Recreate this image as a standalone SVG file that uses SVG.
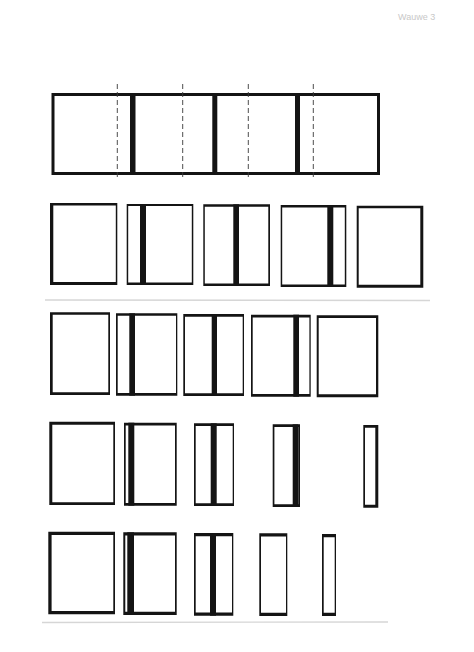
<svg xmlns="http://www.w3.org/2000/svg" width="474" height="652" viewBox="0 0 474 652">
<style>
.k{fill:#141414;fill-rule:evenodd}
.d{stroke:#3a3a3a;stroke-width:0.9;stroke-dasharray:5 3;fill:none}
.g{stroke:#d6d6d6;stroke-width:1.3;fill:none}
.t{font-family:"Liberation Sans",Arial,sans-serif;font-size:9px;fill:#c8c8c8}
</style>
<rect width="474" height="652" fill="#ffffff"/>
<text class="t" x="398" y="20">Wauwe 3</text>
<g id="strip">
<path class="k" d="M51.5 93 H380 V175 H51.5Z M54.5 96 V172 H377 V96Z"/>
<rect class="k" x="130" y="93" width="5.5" height="82"/>
<rect class="k" x="212.3" y="93" width="5" height="82"/>
<rect class="k" x="295" y="93" width="5" height="82"/>
</g>
<g id="cuts">
<line class="d" x1="117.3" y1="84" x2="117.3" y2="180"/>
<line class="d" x1="182.7" y1="84" x2="182.7" y2="180"/>
<line class="d" x1="248.3" y1="84" x2="248.3" y2="180"/>
<line class="d" x1="313.3" y1="84" x2="313.3" y2="180"/>
</g>
<g id="row2">
<g id="r2b1"><path class="k" d="M50 203 H117.3 V285 H50Z M53.3 205.5 V282 H115.8 V205.5Z"/></g>
<g id="r2b2"><path class="k" d="M126.7 204 H193.3 V285 H126.7Z M128.2 206 V282.5 H191.8 V206Z"/><rect class="k" x="140" y="204" width="6" height="81"/></g>
<g id="r2b3"><path class="k" d="M203.3 204.3 H270 V286 H203.3Z M204.8 206.8 V283.5 H268.3 V206.8Z"/><rect class="k" x="233.3" y="204.3" width="5.7" height="81.7"/></g>
<g id="r2b4"><path class="k" d="M280.7 205 H346.3 V287 H280.7Z M282.2 207.5 V284.5 H344.8 V207.5Z"/><rect class="k" x="327.3" y="205" width="6" height="82"/></g>
<g id="r2b5"><path class="k" d="M356.7 205.7 H423.3 V287.7 H356.7Z M358.7 208.2 V284.7 H420.3 V208.2Z"/></g>
</g>
<line class="g" x1="45" y1="300" x2="430" y2="300.5"/>
<g id="row3">
<g id="r3b1"><path class="k" d="M50 312.3 H110 V395 H50Z M52.7 314.8 V392.3 H108.3 V314.8Z"/></g>
<g id="r3b2"><path class="k" d="M116 313.3 H177.3 V395.7 H116Z M117.7 315.8 V393 H176 V315.8Z"/><rect class="k" x="129.3" y="313.3" width="5.7" height="82.4"/></g>
<g id="r3b3"><path class="k" d="M183.3 314 H244 V396 H183.3Z M185 316.7 V393.3 H242.7 V316.7Z"/><rect class="k" x="211.7" y="314" width="5.3" height="82"/></g>
<g id="r3b4"><path class="k" d="M251 314.7 H310.7 V396.7 H251Z M252.7 317.4 V394 H309.4 V317.4Z"/><rect class="k" x="293.3" y="314.7" width="5.7" height="82"/></g>
<g id="r3b5"><path class="k" d="M316.7 315.3 H378.3 V397.3 H316.7Z M318.7 318 V394.3 H376 V318Z"/></g>
</g>
<g id="row4">
<g id="r4b1"><path class="k" d="M49.3 421.7 H115 V505 H49.3Z M52.3 424.7 V502.3 H113.3 V424.7Z"/></g>
<g id="r4b2"><path class="k" d="M124 422.7 H176.7 V505.7 H124Z M125.7 425.4 V503 H175 V425.4Z"/><rect class="k" x="128.3" y="422.7" width="6" height="83"/></g>
<g id="r4b3"><path class="k" d="M194 423.3 H234 V506 H194Z M195.7 426 V503.3 H232.7 V426Z"/><rect class="k" x="210.7" y="423.3" width="6" height="82.7"/></g>
<g id="r4b4"><path class="k" d="M272.7 424.3 H300 V507 H272.7Z M274.4 427 V504.3 H298.3 V427Z"/><rect class="k" x="292.7" y="424.3" width="5.6" height="82.7"/></g>
<g id="r4b5"><path class="k" d="M363.3 425 H378.3 V507.7 H363.3Z M365 427.7 V504.7 H375.3 V427.7Z"/></g>
</g>
<g id="row5">
<g id="r5b1"><path class="k" d="M48.3 531.7 H115 V614.3 H48.3Z M51.6 535 V611 H113.3 V535Z"/></g>
<g id="r5b2"><path class="k" d="M123.3 532.3 H176.7 V615 H123.3Z M125.3 535.6 V611.7 H175 V535.6Z"/><rect class="k" x="127.3" y="532.3" width="6.7" height="82.7"/></g>
<g id="r5b3"><path class="k" d="M194 533 H233.3 V615.7 H194Z M195.7 536.3 V612.4 H232 V536.3Z"/><rect class="k" x="210" y="533" width="6" height="82.7"/></g>
<g id="r5b4"><path class="k" d="M259.3 533.3 H287.3 V616 H259.3Z M261 536.6 V612.7 H286 V536.6Z"/></g>
<g id="r5b5"><path class="k" d="M322 534 H336 V616 H322Z M323.7 537.3 V612.7 H334.7 V537.3Z"/></g>
</g>
<line class="g" x1="42" y1="622.5" x2="388" y2="622"/>
</svg>
